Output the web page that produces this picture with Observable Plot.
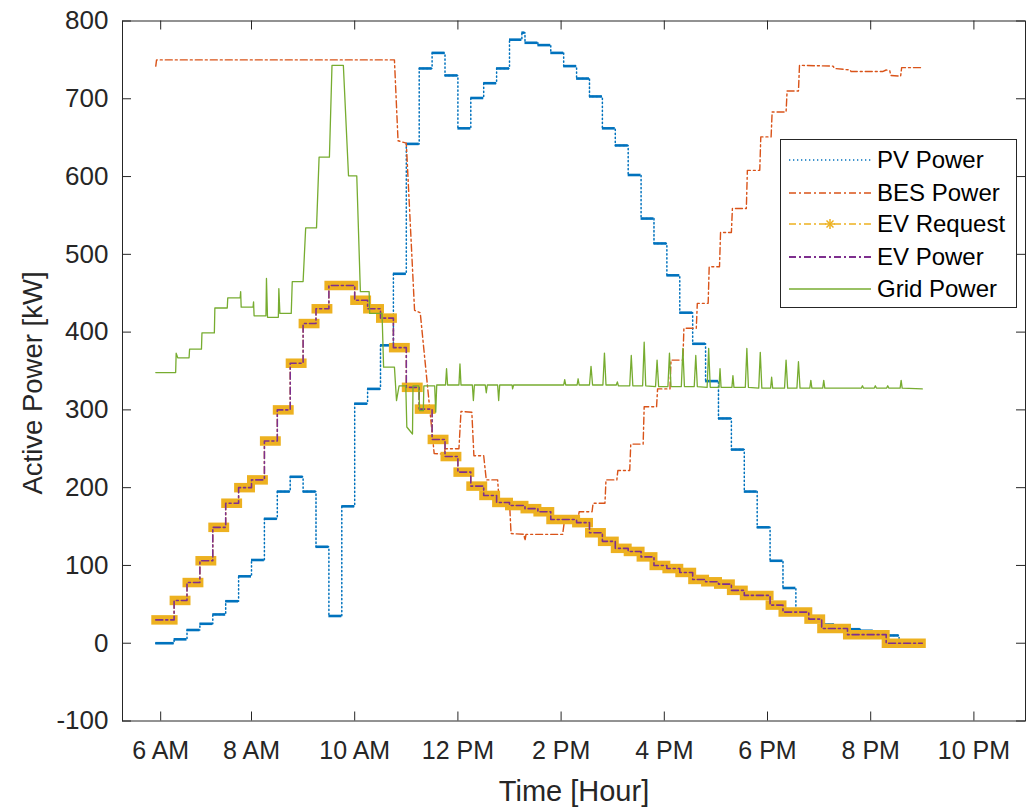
<!DOCTYPE html>
<html><head><meta charset="utf-8">
<script src="https://cdn.jsdelivr.net/npm/d3@7"></script>
<script src="https://cdn.jsdelivr.net/npm/@observablehq/plot@0.6"></script>
<style>
body{margin:0;background:#fff;}
#wrap{position:relative;width:1030px;height:808px;font-family:"Liberation Sans",Arial,Helvetica,sans-serif;}
#legend{position:absolute;left:780px;top:139px;width:237px;height:169px;border:1px solid #262626;background:#fff;box-sizing:border-box;}
.row{position:absolute;left:0;height:30px;width:236px;}
.row svg{position:absolute;left:7px;top:0;}
.row span{position:absolute;left:96px;top:0;line-height:30px;font-size:24px;color:#000;white-space:nowrap;}
</style></head><body><div id="wrap"></div>
<script>
// ---------- data ----------
const seriesNames = ["PV Power", "BES Power", "EV Request", "EV Power", "Grid Power"];
const seriesColors = ["#0072BD", "#D95319", "#EDB120", "#7E2F8E", "#77AC30"];
const tEnd = 21.0;

// PV power: step start (hour) and value (kW)
const pvT = [6.145, 6.5, 6.75, 7.0, 7.25, 7.5, 7.75, 8.0, 8.25, 8.5, 8.75, 9.0, 9.25, 9.5, 9.75, 10.0, 10.25, 10.5, 10.75, 11.0, 11.25, 11.5, 11.75, 12.0, 12.25, 12.5, 12.75, 13.0, 13.24, 13.3, 13.55, 13.8, 14.05, 14.3, 14.55, 14.8, 15.05, 15.3, 15.55, 15.8, 16.05, 16.3, 16.55, 16.8, 17.05, 17.3, 17.55, 17.8, 18.05, 18.3, 18.55, 18.8, 19.05, 19.3, 19.55, 19.8, 20.05, 20.3, 20.55];
const pvV = [0, 5, 17, 25, 37, 54, 86, 107, 160, 195, 214, 195, 124, 35, 176, 308, 327, 383, 475, 642, 739, 759, 730, 662, 701, 720, 739, 776, 785, 772, 769, 759, 742, 726, 703, 662, 640, 602, 546, 514, 473, 425, 385, 337, 289, 249, 195, 149, 106, 71, 42, 32, 24, 20, 18, 16, 12, 10, 0];

// BES power: polyline points
const besT = [6.145, 6.16, 10.77, 10.84, 11.0, 11.16, 11.27, 11.54, 11.74, 11.75, 12.02, 12.06, 12.27, 12.31, 12.5, 12.55, 12.77, 12.8, 13.0, 13.03, 13.28, 13.3, 13.32, 14.03, 14.06, 14.32, 14.35, 14.6, 14.62, 14.85, 14.87, 15.08, 15.1, 15.33, 15.35, 15.59, 15.61, 15.85, 15.87, 16.11, 16.13, 16.36, 16.38, 16.62, 16.64, 16.85, 16.87, 17.07, 17.09, 17.3, 17.32, 17.59, 17.61, 17.85, 17.87, 18.07, 18.09, 18.36, 18.38, 18.6, 18.62, 19.27, 19.3, 19.6, 19.62, 20.23, 20.3, 20.37, 20.39, 20.58, 20.6, 21.0];
const besV = [742, 750, 750, 646, 643, 428, 425, 244, 243, 250, 250, 298, 297, 241, 241, 210, 210, 182, 182, 141, 140, 132, 140, 140, 155, 156, 169, 169, 180, 180, 210, 210, 222, 222, 256, 256, 304, 304, 327, 327, 364, 364, 405, 405, 437, 437, 484, 484, 528, 528, 559, 559, 608, 608, 651, 651, 683, 683, 710, 710, 743, 742, 739, 737, 735, 735, 737, 736, 730, 729, 740, 740];

// EV request / EV power: step start (hour) and value (kW)
const evT = [6.145, 6.5, 6.75, 7.0, 7.25, 7.5, 7.75, 8.0, 8.25, 8.5, 8.75, 9.0, 9.25, 9.5, 10.0, 10.25, 10.5, 10.75, 11.0, 11.25, 11.5, 11.75, 12.0, 12.25, 12.5, 12.75, 13.0, 13.3, 13.55, 13.8, 14.3, 14.55, 14.8, 15.05, 15.3, 15.55, 15.8, 16.05, 16.3, 16.55, 16.8, 17.05, 17.3, 17.55, 18.05, 18.3, 18.8, 19.05, 19.55, 20.3];
const evV = [30, 55, 78, 106, 149, 180, 200, 210, 260, 300, 360, 411, 430, 460, 441, 430, 418, 380, 329, 301, 262, 240, 220, 202, 190, 181, 177, 173, 169, 159, 155, 142, 131, 122, 118, 111, 100, 96, 91, 82, 79, 76, 68, 61.5, 49, 40, 31, 19, 11, 0];

// Grid power: polyline points
const gridT = [6.145, 6.53, 6.54, 6.57, 6.79, 6.8, 7.03, 7.04, 7.28, 7.29, 7.53, 7.54, 7.78, 7.79, 7.8, 8.03, 8.04, 8.05, 8.28, 8.29, 8.31, 8.52, 8.53, 8.55, 8.77, 8.79, 9.0, 9.05, 9.26, 9.31, 9.51, 9.56, 9.78, 9.88, 10.04, 10.11, 10.28, 10.29, 10.53, 10.56, 10.77, 10.81, 10.86, 10.99, 11.01, 11.12, 11.13, 11.24, 11.26, 11.33, 11.34, 11.55, 11.57, 11.59, 11.76, 11.78, 11.8, 12.02, 12.04, 12.06, 12.28, 12.3, 12.32, 12.53, 12.55, 12.57, 12.77, 12.79, 12.81, 13.05, 13.06, 13.08, 14.05, 14.07, 14.09, 14.31, 14.33, 14.35, 14.55, 14.58, 14.61, 14.81, 14.84, 14.87, 15.07, 15.09, 15.11, 15.33, 15.36, 15.39, 15.58, 15.61, 15.64, 15.83, 15.86, 15.89, 16.07, 16.1, 16.13, 16.33, 16.36, 16.39, 16.58, 16.61, 16.64, 16.83, 16.86, 16.89, 17.06, 17.08, 17.1, 17.31, 17.33, 17.35, 17.57, 17.6, 17.63, 17.83, 17.86, 17.89, 18.06, 18.08, 18.1, 18.33, 18.36, 18.39, 18.57, 18.6, 18.63, 18.82, 18.84, 18.86, 19.07, 19.09, 19.11, 19.82, 19.84, 19.86, 20.07, 20.09, 20.11, 20.31, 20.33, 20.35, 20.57, 20.59, 20.61, 21.0];
const gridV = [348, 348, 373, 367, 367, 378, 378, 399, 399, 431, 431, 444, 444, 452, 432, 432, 439, 421, 421, 469, 419, 419, 456, 424, 424, 465, 465, 534, 534, 625, 625, 743, 743, 601, 601, 452, 452, 424, 424, 355, 355, 312, 331, 331, 278, 269, 331, 331, 299, 299, 331, 331, 297, 332, 332, 353, 332, 332, 359, 332, 332, 312, 332, 332, 322, 332, 332, 312, 332, 332, 327, 332, 332, 339, 332, 332, 340, 332, 332, 356, 332, 332, 373, 332, 332, 336, 331, 331, 370, 331, 331, 387, 331, 330, 364, 330, 330, 373, 330, 330, 379, 330, 330, 370, 330, 329, 379, 329, 329, 353, 329, 329, 344, 329, 329, 379, 329, 328, 374, 328, 328, 342, 328, 328, 364, 328, 328, 362, 328, 328, 338, 328, 328, 338, 328, 328, 331, 328, 328, 331, 328, 328, 331, 328, 328, 338, 328, 327];

// axes
const xTicks = [6.24, 8, 10, 12, 14, 16, 18, 20, 22];
const xTickLabels = ["6 AM", "8 AM", "10 AM", "12 PM", "2 PM", "4 PM", "6 PM", "8 PM", "10 PM"];
const yTicks = [-100, 0, 100, 200, 300, 400, 500, 600, 700, 800];
const xLabel = "Time [Hour]";
const yLabel = "Active Power [kW]";

// ---------- build tables ----------
const steps = (T, V) => T.map((t, i) => ({t0: t, t1: i < T.length - 1 ? T[i + 1] : tEnd, v: V[i]}));
const stepLine = (T, V) => [...T.map((t, i) => ({t, v: V[i]})), {t: tEnd, v: V[V.length - 1]}];
const pts = (T, V) => T.map((t, i) => ({t, v: V[i]}));
const pvSteps = steps(pvT, pvV), pvLine = stepLine(pvT, pvV);
const evSteps = steps(evT, evV), evLine = stepLine(evT, evV);
const besPts = pts(besT, besV), gridPts = pts(gridT, gridV);
const labelMap = new Map(xTicks.map((d, i) => [d, xTickLabels[i]]));

const W = 1030, H = 808, mL = 122, mR = 5, mT = 20.5, mB = 87.5;
const pw = W - mL - mR, ph = H - mT - mB;
const axisColor = "#262626";
const [cPV, cBES, cREQ, cEV, cGRID] = seriesColors;
const dashDot = "7,3,2,3";

const chart = Plot.plot({
  width: W, height: H,
  marginLeft: mL, marginRight: mR, marginTop: mT, marginBottom: mB,
  x: {domain: [5.5, 23]},
  y: {domain: [-100, 800]},
  style: {fontFamily: '"Liberation Sans", Arial, Helvetica, sans-serif', fontSize: "25px", color: axisColor, background: "white", overflow: "visible"},
  marks: [
    // PV
    Plot.line(pvLine, {x: "t", y: "v", curve: "step-after", stroke: cPV, strokeWidth: 1.5, strokeDasharray: "1.3,2.7"}),
    Plot.ruleY(pvSteps, {y: "v", x1: "t0", x2: "t1", stroke: cPV, strokeWidth: 2.6}),
    // BES
    Plot.line(besPts, {x: "t", y: "v", stroke: cBES, strokeWidth: 1.4, strokeDasharray: dashDot}),
    // EV request (band of asterisk markers) + EV power
    Plot.ruleY(evSteps, {y: "v", x1: "t0", x2: "t1", stroke: cREQ, strokeWidth: 9.5, insetLeft: -4, insetRight: -4}),
    Plot.line(evLine, {x: "t", y: "v", curve: "step-after", stroke: cREQ, strokeWidth: 1.4, strokeDasharray: dashDot}),
    Plot.line(evLine, {x: "t", y: "v", curve: "step-after", stroke: cEV, strokeWidth: 1.6, strokeDasharray: dashDot}),
    // Grid
    Plot.line(gridPts, {x: "t", y: "v", stroke: cGRID, strokeWidth: 1.3}),
    // frame & ticks (MATLAB box style)
    Plot.frame({stroke: axisColor, strokeWidth: 1}),
    Plot.tickX(xTicks, {x: d => d, stroke: axisColor, insetTop: ph - 9}),
    Plot.tickX(xTicks, {x: d => d, stroke: axisColor, insetBottom: ph - 9}),
    Plot.tickY(yTicks, {y: d => d, stroke: axisColor, insetRight: pw - 9}),
    Plot.tickY(yTicks, {y: d => d, stroke: axisColor, insetLeft: pw - 9}),
    Plot.axisX({ticks: xTicks, tickSize: 0, tickPadding: 20, tickFormat: d => labelMap.get(d), label: null, fontSize: 25}),
    Plot.axisY({ticks: yTicks, tickSize: 0, tickPadding: 14, tickFormat: d => String(d), label: null, fontSize: 26}),
    Plot.text([xLabel], {text: d => d, frameAnchor: "bottom", textAnchor: "middle", dy: 80, fontSize: 29, fill: axisColor}),
    Plot.text([yLabel], {text: d => d, frameAnchor: "left", textAnchor: "middle", rotate: -90, dx: -89, dy: 12, fontSize: 27.5, fill: axisColor})
  ]
});
const wrap = document.getElementById("wrap");
wrap.appendChild(chart);

// ---------- legend ----------
const legend = document.createElement("div");
legend.id = "legend";
const rowTops = [5, 37.7, 69.3, 101.7, 134.3];
const styles = [
  {dash: "1.3,2.7", w: 1.5},
  {dash: dashDot, w: 1.4},
  {dash: dashDot, w: 1.4, star: true},
  {dash: dashDot, w: 1.8},
  {dash: null, w: 1.3}
];
seriesNames.forEach((name, i) => {
  const row = document.createElement("div");
  row.className = "row";
  row.style.top = rowTops[i] + "px";
  const s = styles[i];
  let svg = `<svg width="84" height="30"><line x1="1" x2="83" y1="15" y2="15" stroke="${seriesColors[i]}" stroke-width="${s.w}" ${s.dash ? `stroke-dasharray="${s.dash}"` : ""}/>`;
  if (s.star) {
    svg += `<g stroke="${seriesColors[i]}" stroke-width="1.5"><line x1="42" x2="42" y1="10" y2="20"/><line x1="37" x2="47" y1="15" y2="15"/><line x1="38.5" x2="45.5" y1="11.5" y2="18.5"/><line x1="38.5" x2="45.5" y1="18.5" y2="11.5"/></g>`;
  }
  svg += `</svg>`;
  row.innerHTML = svg + `<span>${name}</span>`;
  legend.appendChild(row);
});
wrap.appendChild(legend);
</script>
</body></html>
